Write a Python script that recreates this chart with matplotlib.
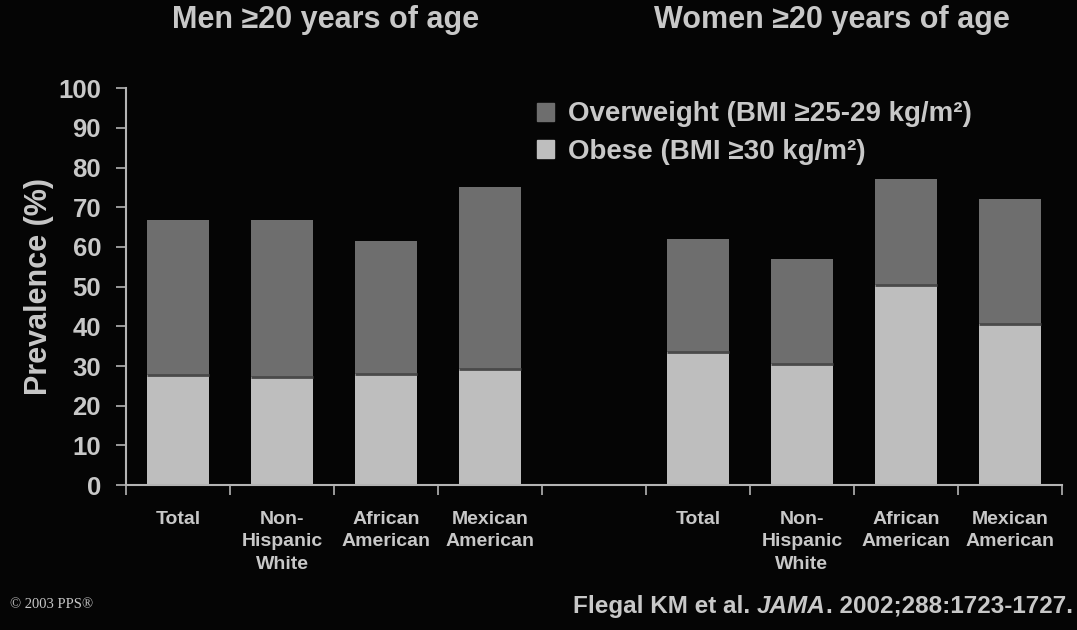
import matplotlib.pyplot as plt
import numpy as np
from matplotlib.patches import Patch

groups = ["Total", "Non-\nHispanic\nWhite", "African\nAmerican", "Mexican\nAmerican"]
men_obese = [27.8, 27.3, 28.1, 29.3]
men_total = [66.7, 66.8, 61.4, 75.0]
women_obese = [33.6, 30.5, 50.5, 40.5]
women_total = [62.0, 57.0, 77.0, 72.0]

bg = "#050505"
fg = "#c8c8c8"
c_over = "#6e6e6e"
c_obese = "#bebebe"

plt.rcParams["font.family"] = ["Liberation Sans", "DejaVu Sans"]
plt.rcParams["font.weight"] = "bold"

fig = plt.figure(figsize=(10.77, 6.30), dpi=100, facecolor=bg)
ax = fig.add_axes([0.117, 0.230, 0.869, 0.630], facecolor=bg)

x = np.array([0, 1, 2, 3, 5, 6, 7, 8])
obese = np.array(men_obese + women_obese)
total = np.array(men_total + women_total)
over = total - obese
w = 0.6

ax.bar(x, obese, w, color=c_obese, linewidth=0)
ax.bar(x, over, w, bottom=obese, color=c_over, linewidth=0)
# darker seam between the two segments
ax.hlines(obese, x - w / 2, x + w / 2, color="#4a4a4a", lw=2)

ax.set_xlim(-0.5, 8.5)
ax.set_ylim(0, 100)
ax.set_yticks(range(0, 101, 10))
ax.set_xticks(np.arange(-0.5, 9, 1))
ax.set_xticklabels([])
for s in ["top", "right"]:
    ax.spines[s].set_visible(False)
for s in ["left", "bottom"]:
    ax.spines[s].set_color("#b4b4b4")
    ax.spines[s].set_linewidth(1.5)
ax.tick_params(colors="#b4b4b4", length=7, width=1.2)
ax.tick_params(axis="y", labelsize=18.5, labelcolor=fg, pad=11)
for t in ax.get_yticklabels():
    t.set_fontweight("bold")

ax.set_ylabel("Prevalence (%)", fontsize=22, fontweight="bold", color=fg, labelpad=3)

for xi, lab in zip(x, groups + groups):
    ax.text(xi, -6.6, lab, ha="center", va="top", fontsize=14, fontweight="bold",
            color=fg, linespacing=1.4)

fig.text(0.302, 0.968, "Men \u226520 years of age", ha="center", va="center",
         fontsize=22, fontweight="bold", color=fg)
fig.text(0.772, 0.968, "Women \u226520 years of age", ha="center", va="center",
         fontsize=22, fontweight="bold", color=fg)

handles = [Patch(color=c_over), Patch(color=c_obese)]
labels = ["Overweight (BMI \u226525-29 kg/m\u00b2)", "Obese (BMI \u226530 kg/m\u00b2)"]
leg = fig.legend(handles, labels, loc="upper left", bbox_to_anchor=(0.4986, 0.839),
                 frameon=False, fontsize=20, handlelength=0.62, handleheight=0.62,
                 handletextpad=0.5, labelspacing=0.4, borderpad=0, borderaxespad=0)
for t in leg.get_texts():
    t.set_color(fg)
    t.set_fontweight("bold")

fig.text(0.009, 0.040, "\u00a9 2003 PPS\u00ae", ha="left", va="center", fontsize=10.5,
         color=fg, family="Liberation Serif", fontweight="normal")

# citation line with the journal name in italics, right-aligned
fig.canvas.draw()
r = fig.canvas.get_renderer()
parts = [("Flegal KM et al. ", "normal"), ("JAMA", "italic"), (". 2002;288:1723-1727.", "normal")]
texts = []
for s, st in parts:
    texts.append(fig.text(0, 0.038, s, ha="left", va="center", fontsize=17.5,
                          fontweight="bold", style=st, color=fg))
widths = [t.get_window_extent(renderer=r).width / fig.bbox.width for t in texts]
xpos = 0.996 - sum(widths)
for t, wd in zip(texts, widths):
    t.set_x(xpos)
    xpos += wd

fig.savefig("out.png", dpi=100, facecolor=bg)
